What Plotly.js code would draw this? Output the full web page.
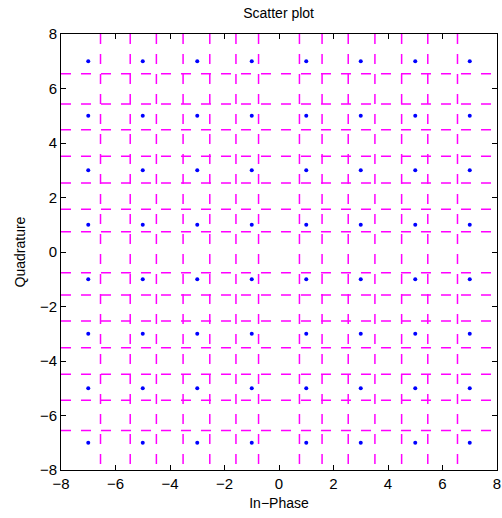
<!DOCTYPE html>
<html>
<head>
<meta charset="utf-8">
<script src="https://cdn.plot.ly/plotly-3.0.1.min.js"></script>
<style>html,body{margin:0;padding:0;background:#fff;}#chart{width:502px;height:518px;}</style>
</head>
<body>
<div id="chart"></div>
<script>
// Constellation levels (in-phase and quadrature)
const levelsI = [-7, -5, -3, -1, 1, 3, 5, 7];
const levelsQ = [7, 5, 3, 1, -1, -3, -5, -7];
// Dashed boundary line positions
const boundsX = [-6.55, -5.46, -4.5, -3.52, -2.54, -1.58, -0.75, 0.75, 1.58, 2.54, 3.52, 4.5, 5.46, 6.55];
const boundsY = [-6.55, -5.44, -4.49, -3.51, -2.53, -1.58, -0.76, 0.74, 1.57, 2.53, 3.51, 4.49, 5.43, 6.54];
const axisMin = -8, axisMax = 8;
const tickVals = [-8, -6, -4, -2, 0, 2, 4, 6, 8];

const ptsI = [], ptsQ = [];
levelsQ.forEach(q => levelsI.forEach(i => { ptsI.push(i); ptsQ.push(q); }));

const traces = [];
const lineStyle = {color: '#ff00ff', width: 1.5, dash: '10px,10px'};
boundsX.forEach(b => traces.push({x: [b, b], y: [axisMax, axisMin], mode: 'lines', line: lineStyle, hoverinfo: 'skip', showlegend: false}));
boundsY.forEach(b => traces.push({x: [axisMin, axisMax], y: [b, b], mode: 'lines', line: lineStyle, hoverinfo: 'skip', showlegend: false}));
traces.push({x: ptsI, y: ptsQ, mode: 'markers', marker: {color: '#0000ff', size: 4}, showlegend: false});

const fnt = 'Liberation Sans, Arial, sans-serif';
const axisCommon = {
  range: [axisMin, axisMax], tickvals: tickVals, ticks: 'inside', ticklen: 5, tickcolor: '#000',
  showline: true, linecolor: '#000', linewidth: 1, mirror: 'ticks', showgrid: false, zeroline: false,
  tickfont: {family: fnt, size: 15, color: '#000'}
};
const layout = {
  width: 502, height: 518,
  margin: {l: 61, r: 5, t: 34, b: 48},
  paper_bgcolor: '#fff', plot_bgcolor: '#fff',
  title: {text: 'Scatter plot', font: {family: fnt, size: 14, color: '#000'}, x: 0.555, xanchor: 'center', y: 0.985, yanchor: 'top'},
  xaxis: Object.assign({}, axisCommon, {title: {text: 'In\u2212Phase', font: {family: fnt, size: 14, color: '#000'}, standoff: 7}}),
  yaxis: Object.assign({}, axisCommon, {title: {text: 'Quadrature', font: {family: fnt, size: 14, color: '#000'}, standoff: 10}}),
  showlegend: false
};
Plotly.newPlot('chart', traces, layout, {displayModeBar: false, staticPlot: true});
</script>
</body>
</html>
